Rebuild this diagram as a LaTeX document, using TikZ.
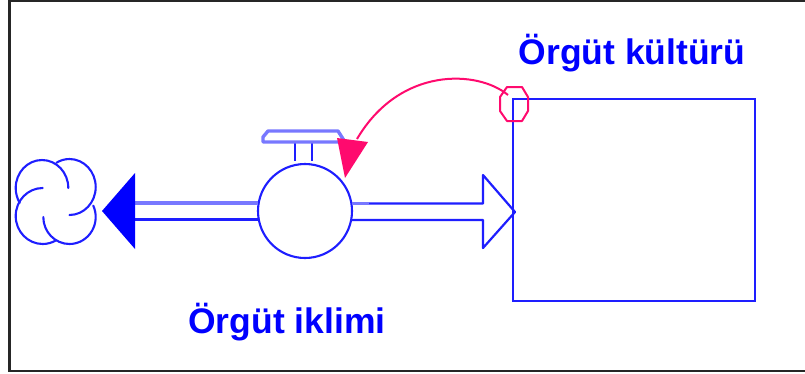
\documentclass[tikz,border=0pt]{standalone}
\usepackage{fontspec}
\setmainfont{Liberation Sans}
\definecolor{flowblue}{HTML}{1E1EFF}
\definecolor{linkpink}{HTML}{FF0A6E}
\tikzset{
  x=1pt,y=1pt,
  line/.style={draw=flowblue,line width=2.1pt},
  pipe/.style={draw=flowblue,line width=2.2pt},
  softpipe/.style={draw=flowblue!60,line width=3.4pt},
  label/.style={text=blue,font=\bfseries\fontsize{35.5}{37}\selectfont,anchor=base west,inner sep=0pt},
  frameline/.style={draw=black!85,line width=2.2pt},
  linkline/.style={draw=linkpink,line width=2pt}
}
\begin{document}
\begin{tikzpicture}
\useasboundingbox (0,0) rectangle (805,-373);
\fill[white] (0,0) rectangle (805,-373);
% frame
\draw[frameline] (805,-1) -- (9.5,-1) -- (9.5,-371) -- (805,-371);
% stock
\node[line,rectangle,minimum width=242pt,minimum height=202pt,inner sep=0pt,outer sep=0pt,anchor=north west] (stock) at (513,-99) {};
% valve
\node[line,circle,minimum size=94pt,inner sep=0pt,outer sep=0pt] (valve) at (305,-211) {};
% stem and handle
\coordinate (stemL) at (295,-143);
\coordinate (stemR) at (312,-143);
\draw[line] (stemL) -- (295,-161);
\draw[line] (stemR) -- (312,-161);
\draw[softpipe,line join=round] (263,-142) -- (345,-142) -- (338,-131) -- (268,-131) -- (263,-137) -- cycle;
% outflow pipe
\draw[softpipe] (135,-203) -- (258,-203);
\draw[pipe] (135,-219.5) -- (258,-219.5);
\path[fill=blue] (102,-211) -- (135,-173) -- (135,-249) -- cycle;
% inflow pipe
\draw[softpipe] (352,-203.5) -- (369,-203.5);
\draw[pipe,line join=round] (369,-203.5) -- (483,-203.5) -- (483,-175) -- (515,-212) -- (483,-248) -- (483,-220) -- (352,-220);
% cloud
\begin{scope}[line/.append style={line cap=round}]
\draw[line] (68.3,-188) arc[start angle=0,end angle=212,x radius=26.3,y radius=28];
\draw[line] (42.7,-188) arc[start angle=90,end angle=300,x radius=27,y radius=28];
\draw[line] (43.3,-217) arc[start angle=180,end angle=385,x radius=26.2,y radius=27];
\draw[line] (69.5,-215) arc[start angle=270,end angle=480,x radius=26.2,y radius=28];
\end{scope}
% link
\coordinate (portc) at (514,-104);
\draw[linkline,line join=round] (507,-87) -- (522,-87) -- (528,-97) -- (528,-111) -- (522,-121) -- (507,-121) -- (500,-111) -- (500,-97) -- cycle;
\coordinate (tip) at (357,-139);
\draw[linkline] (portc) ++(-6,9) coordinate (linkstart) (linkstart) .. controls (478,-70) and (400,-66) .. (tip);
\path[fill=linkpink] (337,-138) -- (368,-142) -- (345,-178) -- cycle;
% labels
\node[label] (l1) at (518.5,-64.5) {Örgüt kültürü};
\node[label] (l2) at (188,-333) {Örgüt iklimi};
\end{tikzpicture}
\end{document}
